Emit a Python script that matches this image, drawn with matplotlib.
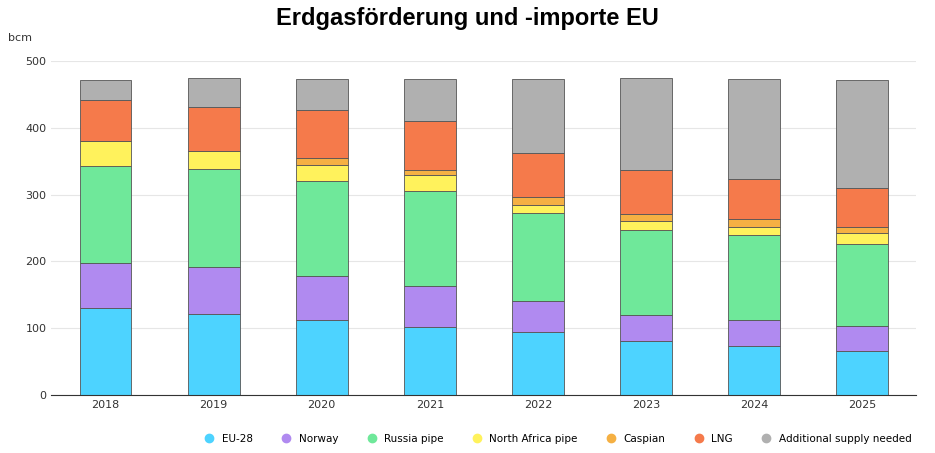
import numpy as np
import matplotlib
matplotlib.use("Agg")
import matplotlib.pyplot as plt
from matplotlib.lines import Line2D

years = ['2018', '2019', '2020', '2021', '2022', '2023', '2024', '2025']
# cumulative tops (bcm)
tops = {
    'EU-28':                   [130, 122, 113, 102, 94, 81, 73, 66],
    'Norway':                  [197, 191, 178, 163, 141, 120, 112, 103],
    'Russia pipe':             [343, 338, 321, 306, 272, 247, 239, 226],
    'North Africa pipe':       [381, 366, 345, 329, 285, 261, 252, 242],
    'Caspian':                 [381, 366, 355, 337, 296, 271, 263, 251],
    'LNG':                     [442, 431, 427, 411, 363, 337, 324, 310],
    'Additional supply needed': [472, 475, 474, 473, 474, 475, 473, 472],
}
colors = ['#4dd3ff', '#b08af0', '#6fe89a', '#fff25c', '#f5b043', '#f57a4b', '#b0b0b0']

fig, ax = plt.subplots(figsize=(9.35, 4.53), dpi=100)
fig.subplots_adjust(left=0.055, right=0.98, top=0.865, bottom=0.128)
x = np.arange(len(years))
prev = np.zeros(len(years))
for (name, t), c in zip(tops.items(), colors):
    t = np.array(t, dtype=float)
    ax.bar(x, t - prev, bottom=prev, width=0.48, color=c, edgecolor='#555555', linewidth=0.6)
    prev = t

ax.set_xlim(-0.5, len(years) - 0.5)
ax.set_ylim(0, 500)
ax.set_yticks(range(0, 501, 100))
ax.set_xticks(x)
ax.set_xticklabels(years)
ax.tick_params(labelsize=8, length=0, colors='#333333')
ax.grid(axis='y', color='#e6e6e6', linewidth=0.8)
ax.set_axisbelow(True)
for s in ['top', 'right', 'left']:
    ax.spines[s].set_visible(False)
ax.spines['bottom'].set_color('#333333')
ax.text(-0.05, 1.06, 'bcm', transform=ax.transAxes, fontsize=8, color='#333333')
fig.suptitle('Erdgasförderung und -importe EU', fontsize=17, fontweight='heavy',
             family='Liberation Sans', y=0.985)

handles = [Line2D([], [], marker='o', ls='', color=c, markersize=6) for c in colors]
fig.legend(handles, list(tops.keys()), loc='lower right', ncol=7, frameon=False,
           fontsize=7.5, bbox_to_anchor=(0.985, 0.0), handletextpad=0.2, columnspacing=2.2)
fig.savefig('out.png')
